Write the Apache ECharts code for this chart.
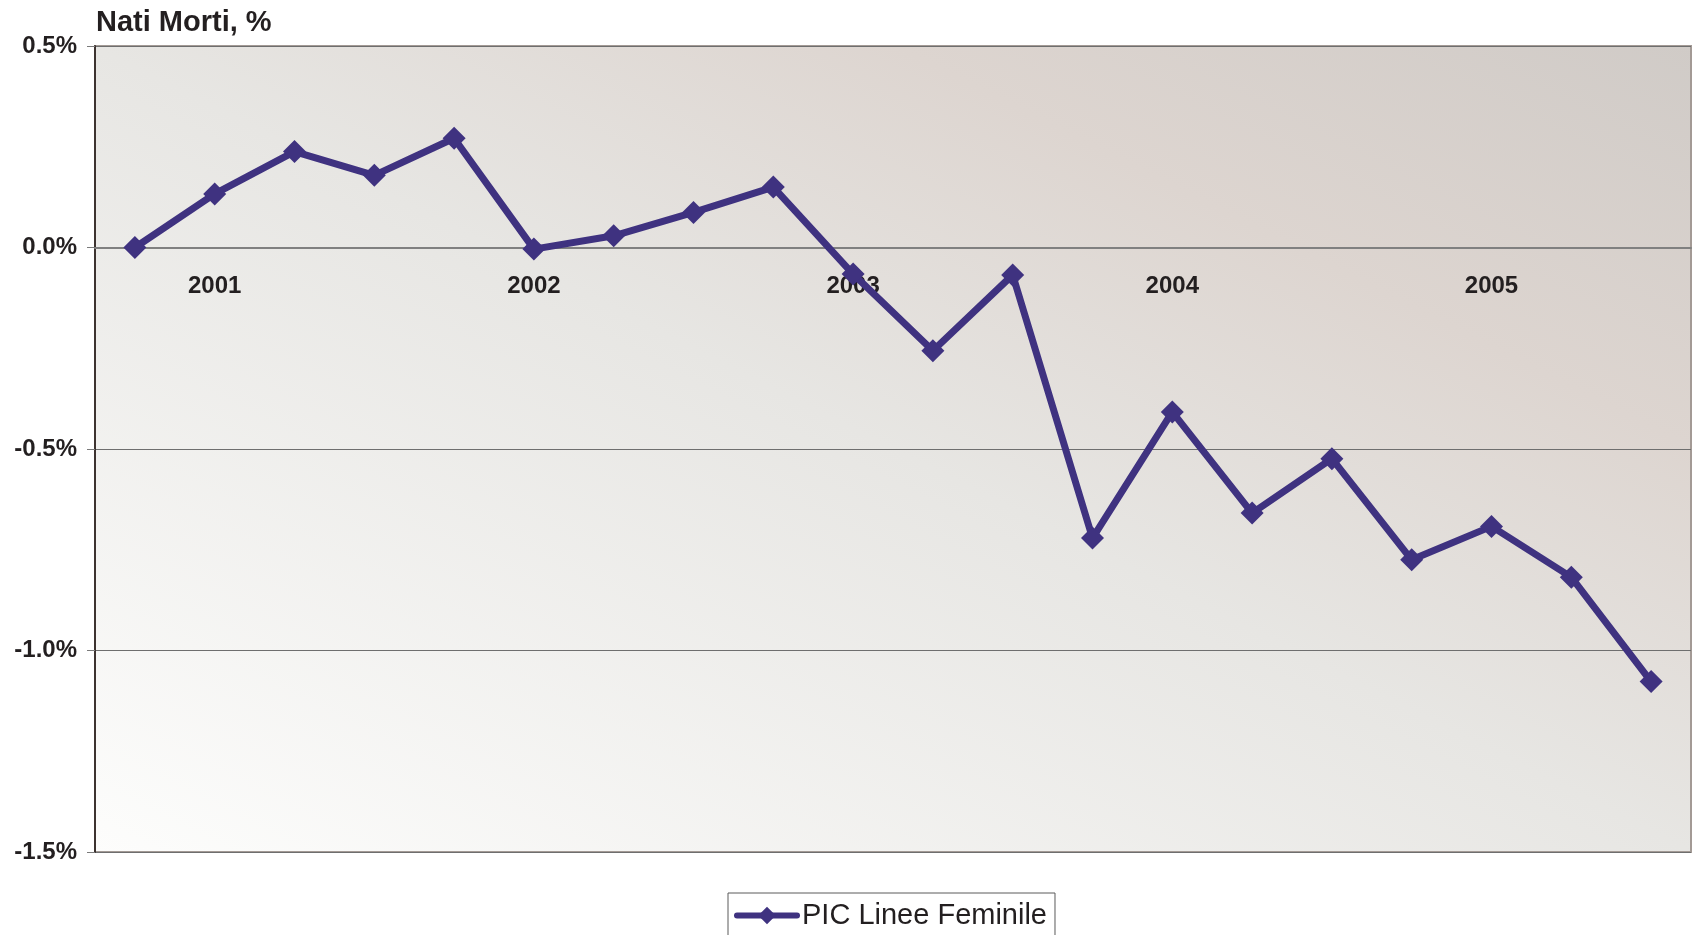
<!DOCTYPE html>
<html>
<head>
<meta charset="utf-8">
<script src="https://cdn.jsdelivr.net/npm/echarts@6/dist/echarts.min.js"></script>
<style>
html,body{margin:0;padding:0;background:#fff;}
#chart{width:1692px;height:935px;}
</style>
</head>
<body>
<div id="chart"></div>
<script>
const titleText = 'Nati Morti, %';
const seriesName = 'PIC Linee Feminile';
const categories = ['', '2001', '', '', '', '2002', '', '', '', '2003', '', '', '', '2004', '', '', '', '2005', '', ''];
const values = [0.000, 0.133, 0.238, 0.179, 0.271, -0.004, 0.029, 0.087, 0.150, -0.066,
                -0.256, -0.068, -0.721, -0.408, -0.659, -0.524, -0.775, -0.692, -0.818, -1.077];
const yMin = -1.5, yMax = 0.5, yStep = 0.5;

const chart = echarts.init(document.getElementById('chart'), null, {renderer: 'canvas'});
const font = '"Liberation Sans", Arial, sans-serif';
const gridTop = 46, gridBottom = 83, plotH = 935 - gridTop - gridBottom;
// x axis crosses the value axis at 0
const zeroOffset = -plotH * (0 - yMin) / (yMax - yMin);
chart.setOption({
  animation: false,
  backgroundColor: '#ffffff',
  title: {
    text: titleText, left: 91, top: 3,
    textStyle: {fontFamily: font, fontSize: 29, fontWeight: 'bold', color: '#231f20'}
  },
  grid: {
    left: 95, right: 1, top: gridTop, bottom: gridBottom,
    show: true, borderColor: '#a39a95', borderWidth: 2,
    backgroundColor: new echarts.graphic.LinearGradient(0.297, 1.297, 0.703, -0.297, [
      {offset: 0, color: '#fdfdfc'},
      {offset: 0.5, color: '#e7e6e3'},
      {offset: 0.75, color: '#ddd5d0'},
      {offset: 1, color: '#d0cbc7'}
    ])
  },
  legend: {
    left: 728, top: 893,
    borderColor: '#5a5a5a', borderWidth: 1,
    padding: [8, 8, 12, 6],
    itemWidth: 60, itemHeight: 22,
    lineStyle: {width: 6, cap: 'round'},
    textStyle: {fontFamily: font, fontSize: 29, color: '#231f20'},
    data: [seriesName]
  },
  xAxis: {
    type: 'category', data: categories, boundaryGap: true,
    position: 'bottom', offset: zeroOffset,
    axisLine: {onZero: false, lineStyle: {color: '#808080', width: 2}},
    axisTick: {show: false},
    axisLabel: {interval: 0, margin: 27, fontFamily: font, fontSize: 24, fontWeight: 'bold', color: '#231f20'},
    splitLine: {show: false}
  },
  yAxis: {
    type: 'value', min: yMin, max: yMax, interval: yStep,
    axisLine: {show: true, lineStyle: {color: '#3d3330', width: 2}},
    axisTick: {show: true, length: 8, lineStyle: {color: '#7a7a7a'}},
    axisLabel: {
      margin: 18, padding: [3, 0, 0, 0], fontFamily: font, fontSize: 24, fontWeight: 'bold', color: '#231f20',
      formatter: v => v.toFixed(1) + '%'
    },
    splitLine: {show: true, lineStyle: {color: '#6e6e6e', width: 1}}
  },
  series: [{
    name: seriesName, type: 'line', data: values,
    symbol: 'diamond', symbolSize: 23,
    lineStyle: {color: '#3f3280', width: 7},
    itemStyle: {color: '#3f3280'},
    z: 5
  }]
});
</script>
</body>
</html>
